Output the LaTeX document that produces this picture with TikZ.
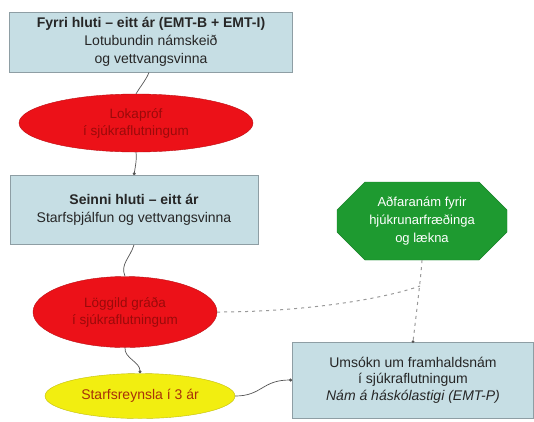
\documentclass[tikz,border=0pt]{standalone}
\usepackage{fontspec}
\setmainfont{Liberation Sans}
\usetikzlibrary{shapes.geometric,shapes.misc,arrows.meta}
\definecolor{boxfill}{HTML}{C6DEE4}
\definecolor{boxline}{HTML}{8E9EA4}
\definecolor{redfill}{HTML}{EC1118}
\definecolor{redtext}{HTML}{9A0A0A}
\definecolor{yelfill}{HTML}{F2EE10}
\definecolor{yeltext}{HTML}{A8300A}
\definecolor{grnfill}{HTML}{1E9A30}
\definecolor{lnk}{HTML}{555555}
\tikzset{
  infobox/.style={draw=boxline, line width=0.8pt, fill=boxfill, inner sep=0pt, align=center, font=\fontsize{14}{18}\selectfont, text=black!85},
  redell/.style={ellipse, fill=redfill, draw=redfill!80!black, line width=0.4pt, inner sep=0pt, align=center, text=redtext, font=\fontsize{13.5}{17}\selectfont},
  yelell/.style={ellipse, fill=yelfill, draw=yelfill!80!black, line width=0.4pt, inner sep=0pt, align=center, text=yeltext, font=\fontsize{14}{17}\selectfont},
  grnoct/.style={chamfered rectangle, chamfered rectangle xsep=14pt, chamfered rectangle ysep=14pt, fill=grnfill, draw=grnfill!85!black, inner sep=0pt, align=center, text=white, font=\fontsize{13}{18}\selectfont},
  link/.style={draw=lnk, line width=0.7pt, -{Circle[length=3pt]}},
  plainlink/.style={draw=lnk, line width=0.7pt},
  dashlink/.style={draw=gray!80, line width=1pt, dash pattern=on 3pt off 4pt},
}
\begin{document}
\begin{tikzpicture}[x=1pt,y=-1pt]
\useasboundingbox (0,0) rectangle (534,421);
\fill[white] (0,0) rectangle (534,421);
\node[infobox, minimum width=283pt, minimum height=60pt] (b1) at (151,42)
  {\textbf{Fyrri hluti – eitt ár (EMT-B + EMT-I)}\\Lotubundin námskeið\\og vettvangsvinna};
\node[redell, minimum width=234pt, minimum height=58pt] (e1) at (136,123)
  {Lokapróf\\í sjúkraflutningum};
\node[infobox, minimum width=248pt, minimum height=69pt] (b2) at (134,210)
  {\textbf{Seinni hluti – eitt ár}\\Starfsþjálfun og vettvangsvinna};
\node[redell, minimum width=184pt, minimum height=71pt] (e2) at (125,312)
  {Löggild gráða\\í sjúkraflutningum};
\node[yelell, minimum width=190pt, minimum height=45pt] (y1) at (140,396)
  {Starfsreynsla í 3 ár};
\node[grnoct, minimum width=170pt, minimum height=78pt] (g1) at (422,221)
  {Aðfaranám fyrir\\hjúkrunarfræðinga\\og lækna};
\node[infobox, font=\fontsize{14}{16.5}\selectfont, minimum width=241pt, minimum height=76pt] (b3) at (413,380)
  {Umsókn um framhaldsnám\\í sjúkraflutningum\\\textit{Nám á háskólastigi (EMT-P)}};
% connectors
\draw[plainlink] ([xshift=-2pt]b1.south) .. controls (146,80) and (142,84) .. (e1.north);
\draw[link] (e1.south) .. controls (137,160) and (135,168) .. (b2.north);
\draw[plainlink] (b2.south) .. controls (130,258) and (120,264) .. (e2.north);
\draw[link] (e2.south) .. controls (124,358) and (140,362) .. (y1.north);
\draw[link] (y1.east) .. controls (262,396) and (262,380) .. (b3.west);
\coordinate (mj) at (420,286);
\draw[dashlink] (g1.south) .. controls (421,275) and (418,300) .. (b3.north);
\fill[lnk] (b3.north) circle (1.5pt);
\draw[dashlink] (e2.east) .. controls (300,312) and (380,300) .. (mj);
\end{tikzpicture}
\end{document}
